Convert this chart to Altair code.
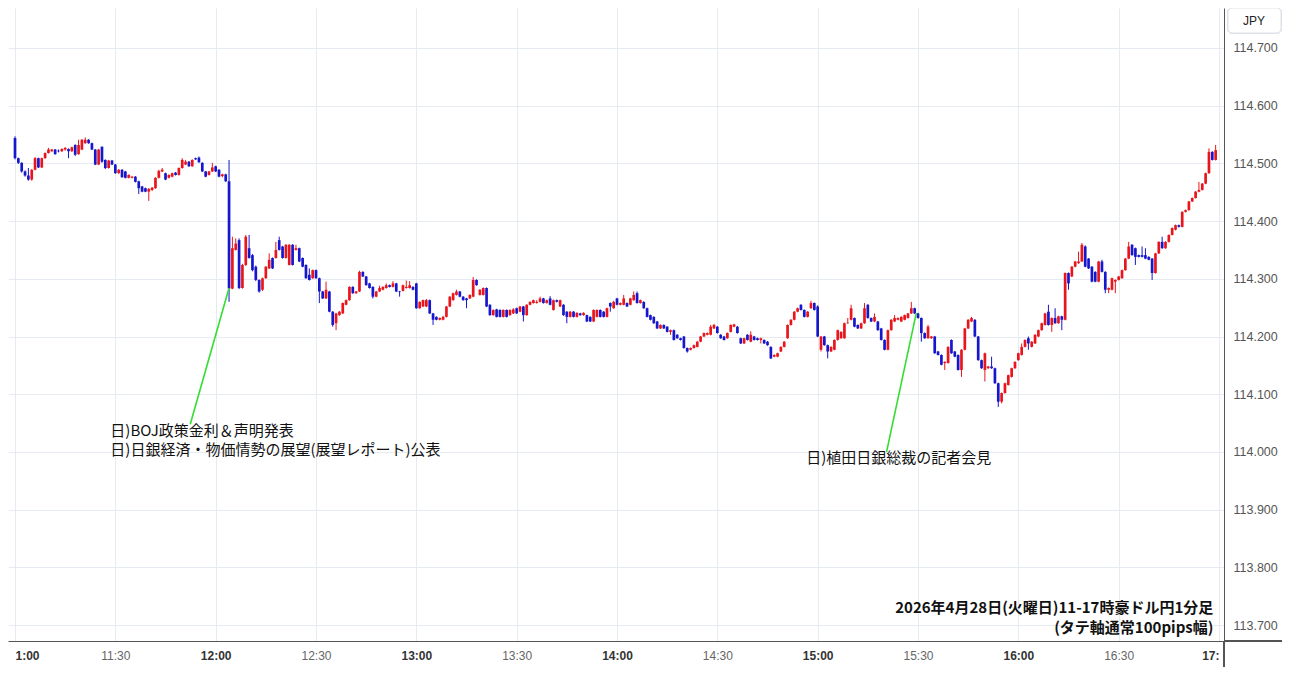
import altair as alt
import pandas as pd

# 1-minute candles, 11:00-16:59; values are thousandths above 114.000
OPEN = [
    544,509,501,486,479,472,489,509,493,509, 518,521,524,522,521,524,525,521,532,516,
    524,535,541,535,524,498,529,506,492,505, 498,483,489,486,475,475,477,469,460,457,
    451,454,457,475,486,483,475,477,484,480, 492,498,503,495,509,510,501,486,480,486,
    495,489,478,481,469,283,350,367,284,324, 353,341,321,298,281,301,318,336,336,367,
    356,336,324,359,350,353,336,324,307,301, 315,301,278,266,278,243,223,237,240,255,
    263,286,275,278,312,304,292,286,269,278, 281,284,289,286,292,278,279,284,284,286,
    292,249,252,252,263,240,234,229,229,234, 252,263,272,278,269,266,266,269,298,272,
    272,284,255,237,247,246,234,246,237,240, 249,243,252,237,255,258,258,260,266,258,
    266,246,263,252,255,243,234,243,234,240, 237,237,234,226,234,246,243,234,258,249,
    266,255,255,258,255,263,275,258,260,249, 237,234,226,214,220,217,208,211,203,197,
    200,180,177,180,182,191,200,203,203,214, 217,203,200,197,208,217,217,197,188,203,
    191,200,197,194,194,191,182,165,165,174, 182,197,220,229,243,255,246,234,249,258,
    252,177,200,185,174,177,194,197,197,223, 229,232,220,214,223,255,232,226,226,214,
    194,177,211,226,229,226,229,232,240,249, 240,232,206,197,197,200,174,168,154,154,
    194,174,168,142,177,214,226,229,200,159, 142,145,148,145,119,87,102,116,130,145,
    159,168,182,197,182,188,200,211,220,243, 220,232,223,235,229,310,304,321,327,330,
    356,335,321,312,295,330,312,281,281,295, 298,301,315,335,359,353,341,341,341,338,
    335,310,344,364,353,364,376,385,393,390, 416,419,434,440,451,454,465,483,520,506,
]
HIGH = [
    547,510,502,488,492,490,511,510,510,519, 527,525,525,524,526,528,526,529,533,541,
    542,545,542,536,525,525,529,507,506,506, 499,490,490,487,481,478,478,470,461,458,
    457,459,476,489,492,484,481,484,485,493, 509,506,504,507,510,512,502,487,487,501,
    496,490,482,482,506,373,370,370,326,376, 376,343,323,299,302,322,344,337,364,373,
    357,360,360,360,359,354,337,325,318,316, 316,302,279,295,279,244,241,244,259,264,
    287,287,279,314,313,305,293,287,279,288, 287,292,290,296,293,279,290,297,296,287,
    293,261,264,265,264,241,235,233,236,253, 270,276,281,279,270,267,273,303,299,282,
    285,285,256,247,248,247,247,247,247,249, 250,253,253,256,261,264,263,269,267,264,
    270,264,264,264,256,244,244,244,242,241, 242,238,235,247,247,247,244,250,259,262,
    267,259,272,259,267,278,278,264,261,250, 238,235,227,221,221,218,212,212,204,198,
    201,181,181,186,192,201,207,207,220,222, 218,204,201,207,221,222,218,198,198,204,
    209,201,198,198,195,192,183,169,172,183, 192,221,230,244,250,256,247,244,262,259,
    254,201,201,186,183,195,212,209,224,232, 255,233,221,224,258,256,233,240,227,215,
    195,212,230,237,233,235,238,241,260,250, 241,233,207,220,201,201,175,169,157,183,
    195,175,169,178,215,230,234,230,201,160, 172,149,165,146,120,103,120,134,146,157,
    172,188,195,200,192,204,212,224,241,255, 233,249,236,236,311,311,322,331,347,362,
    358,336,322,313,331,333,313,285,302,299, 305,316,336,364,360,354,342,356,353,339,
    336,345,365,373,365,377,389,394,394,417, 420,435,441,452,468,466,484,526,521,532,
]
LOW = [
    507,499,484,477,470,470,488,492,492,508, 517,520,515,519,520,522,509,520,513,515,
    523,534,534,523,497,497,501,490,491,497, 482,482,475,474,474,474,467,447,450,450,
    435,452,456,474,485,471,474,476,479,479, 491,497,494,494,506,501,485,476,479,485,
    485,476,476,468,260,282,349,282,283,322, 335,313,296,276,279,300,317,317,335,349,
    335,335,323,323,349,329,320,300,297,300, 300,258,265,265,242,217,211,236,239,254,
    262,274,274,277,303,288,283,266,268,277, 280,283,285,285,277,269,278,283,283,280,
    248,248,251,251,239,220,228,228,228,233, 251,262,271,268,262,249,265,268,288,271,
    271,251,236,236,233,233,233,233,236,239, 239,242,226,236,254,257,257,259,257,257,
    254,245,259,251,236,223,233,233,233,236, 236,225,225,225,233,233,233,233,243,248,
    254,254,254,251,254,262,257,257,248,233, 228,222,213,213,213,207,203,193,196,193,
    179,172,176,179,181,190,199,202,202,213, 205,196,193,196,207,216,205,187,187,193,
    190,193,193,188,187,184,161,164,164,173, 181,196,219,228,242,245,233,233,248,245,
    199,174,184,162,173,176,193,196,196,222, 228,216,213,213,222,231,225,225,210,193,
    176,176,210,225,228,225,228,231,239,239, 231,191,196,196,196,170,167,150,142,153,
    170,164,141,130,176,213,225,199,158,144, 122,144,144,118,78,84,101,115,129,144,
    158,167,181,177,181,187,199,210,219,219, 208,222,222,211,228,281,303,320,326,329,
    320,317,294,294,294,311,275,275,280,275, 297,300,314,334,340,324,337,337,334,332,
    298,309,343,352,352,363,375,384,389,389, 415,418,433,439,450,453,464,482,505,505,
]
CLOSE = [
    509,501,486,479,472,489,509,493,509,518, 524,524,516,521,525,527,521,528,515,532,
    541,541,535,524,498,524,503,492,505,498, 483,489,476,475,480,477,468,457,451,451,
    456,458,475,487,489,472,480,483,480,492, 506,503,495,506,507,502,486,477,486,493,
    486,477,481,469,283,353,361,284,324,373, 336,315,298,278,301,321,333,318,350,350,
    336,359,359,324,353,330,321,301,298,315, 301,278,266,281,243,220,240,243,258,263,
    286,275,278,312,304,289,284,269,278,284, 286,289,286,292,278,277,289,286,289,281,
    249,260,263,263,240,229,229,232,234,252, 269,275,278,269,263,263,272,298,289,281,
    284,252,237,246,234,234,246,234,246,247, 240,252,237,255,260,263,260,266,258,263,
    255,263,260,263,237,234,243,234,241,237, 241,226,226,246,246,234,234,249,252,260,
    255,258,266,252,266,272,258,263,249,234, 229,223,214,220,214,208,211,194,197,194,
    180,174,180,185,191,200,206,206,217,220, 206,197,194,206,220,221,206,188,197,194,
    203,194,194,197,188,185,162,168,171,182, 191,220,229,243,249,246,234,243,258,246,
    200,200,185,174,182,194,211,208,223,224, 249,217,214,223,249,232,226,234,211,194,
    177,211,229,232,232,234,237,240,249,240, 232,206,197,217,200,171,168,151,156,182,
    171,165,142,177,214,229,232,200,159,145, 171,148,145,119,87,102,119,133,145,156,
    171,182,194,188,191,203,211,223,240,220, 232,223,235,229,310,292,321,330,330,359,
    321,318,295,295,330,312,281,284,301,298, 304,315,335,356,341,338,338,338,335,333,
    310,344,364,353,364,376,388,393,390,416, 419,434,440,451,454,465,483,520,506,523,
]

Y_TICKS = [113.7, 113.8, 113.9, 114.0, 114.1, 114.2, 114.3, 114.4, 114.5, 114.6, 114.7]
X_TICKS = [0, 30, 60, 90, 120, 150, 180, 210, 240, 270, 300, 330, 360]

NOTE_TEXT = ["日)BOJ政策金利＆声明発表", "日)日銀経済・物価情勢の展望(展望レポート)公表", "日)植田日銀総裁の記者会見"]
NOTE_M = [28.5, 28.5, 236.6]
NOTE_P = [114.0362, 114.0033, 113.989]
LINE_M = [52.4, 260.6]
LINE_P = [114.048, 114.000]
LINE_M2 = [64.0, 269.5]
LINE_P2 = [114.284, 114.241]
TITLE_TEXT = ["2026年4月28日(火曜日)11-17時豪ドル円1分足", "(タテ軸通常100pips幅)"]
TITLE_M = [358.3, 358.3]
TITLE_P = [113.7295, 113.6948]

RED = "#e8161c"
BLUE = "#1616cc"
GRID = "#e6ebf1"
AXIS = "#555555"

n = len(CLOSE)
rows = []
for i in range(n):
    o = 114 + OPEN[i] / 1000
    c = 114 + CLOSE[i] / 1000
    h = max(114 + HIGH[i] / 1000, o, c)
    l = min(114 + LOW[i] / 1000, o, c)
    rows.append({"m": i, "open": o, "high": h, "low": l, "close": c,
                 "dir": "up" if c >= o else "down"})
df = pd.DataFrame(rows)

xscale = alt.Scale(domain=[-0.6, 360], nice=False, zero=False)
yscale = alt.Scale(domain=[113.6723, 114.7693], nice=False, zero=False)
cscale = alt.Scale(domain=["up", "down"], range=[RED, BLUE])

label_expr = ("datum.value == 0 ? '1:00' : datum.value == 360 ? '17:' : "
              "(floor(datum.value / 60) + 11) + ':' + (datum.value % 60 == 0 ? '00' : '30')")

x_axis = alt.Axis(
    values=X_TICKS, labelExpr=label_expr, title=None, grid=True, gridColor=GRID,
    ticks=False, domainColor=AXIS, labelFont="Liberation Sans", labelFontSize=12,
    labelFontWeight={"condition": {"test": "datum.value % 60 == 0", "value": "bold"}, "value": "normal"},
    labelColor={"condition": {"test": "datum.value % 60 == 0", "value": "#333333"}, "value": "#666666"},
    labelAlign={"condition": [{"test": "datum.value == 0", "value": "left"},
                              {"test": "datum.value == 360", "value": "right"}],
                "value": "center"},
    labelPadding=9,
)
y_axis = alt.Axis(
    orient="right", values=Y_TICKS, format=".3f", title=None, grid=True, gridColor=GRID,
    ticks=False, domainColor=AXIS, labelFont="Liberation Sans", labelFontSize=12.5,
    labelColor="#555555", labelPadding=9,
)

base = alt.Chart(df)
wicks = base.mark_rule(strokeWidth=1).encode(
    x=alt.X("m:Q", scale=xscale, axis=x_axis),
    y=alt.Y("low:Q", scale=yscale, axis=y_axis),
    y2="high:Q",
    color=alt.Color("dir:N", scale=cscale, legend=None),
)
bodies = base.mark_bar(size=2.7).encode(
    x=alt.X("m:Q", scale=xscale),
    y=alt.Y("open:Q", scale=yscale),
    y2="close:Q",
    color=alt.Color("dir:N", scale=cscale, legend=None),
)

lines_df = pd.DataFrame({"m": LINE_M, "p": LINE_P, "m2": LINE_M2, "p2": LINE_P2})
pointer = alt.Chart(lines_df).mark_rule(color="#33dd33", strokeWidth=1.6).encode(
    x=alt.X("m:Q", scale=xscale), y=alt.Y("p:Q", scale=yscale), x2="m2:Q", y2="p2:Q"
)

notes_df = pd.DataFrame({"m": NOTE_M, "p": NOTE_P, "t": NOTE_TEXT})
notes = alt.Chart(notes_df).mark_text(
    align="left", baseline="middle", font="Noto Sans CJK JP", fontSize=15, color="#111111"
).encode(x=alt.X("m:Q", scale=xscale), y=alt.Y("p:Q", scale=yscale), text="t:N")

title_df = pd.DataFrame({"m": TITLE_M, "p": TITLE_P, "t": TITLE_TEXT})
title = alt.Chart(title_df).mark_text(
    align="right", baseline="middle", font="Noto Sans CJK JP", fontSize=15,
    fontWeight="bold", color="#111111"
).encode(x=alt.X("m:Q", scale=xscale), y=alt.Y("p:Q", scale=yscale), text="t:N")

axis_ext_h = alt.Chart(df).mark_rule(color=AXIS, strokeWidth=1, clip=False).encode(
    x=alt.value(1216), x2=alt.value(1274), y=alt.value(633)
)
axis_ext_v = alt.Chart(df).mark_rule(color=AXIS, strokeWidth=1, clip=False).encode(
    x=alt.value(1216), y=alt.value(633), y2=alt.value(659)
)
jpy_box = alt.Chart(df).mark_rect(
    fill="white", stroke="#dde1e8", strokeWidth=1, cornerRadius=4, clip=False
).encode(x=alt.value(1220), x2=alt.value(1273), y=alt.value(0), y2=alt.value(25))
jpy_text = alt.Chart(pd.DataFrame({"t": ["JPY"]})).mark_text(
    font="Liberation Sans", fontSize=12, color="#222222", align="center", baseline="middle", clip=False
).encode(x=alt.value(1246), y=alt.value(12.5), text="t:N")

chart = alt.layer(
    wicks, bodies, pointer, notes, title, axis_ext_h, axis_ext_v, jpy_box, jpy_text
).properties(
    width=1216, height=633, background="white",
    autosize=alt.AutoSizeParams(type="none"),
    padding={"left": 0, "top": 0, "right": 58, "bottom": 26},
).configure_view(stroke=None)

chart.save("out.html", embed_options={"renderer": "svg", "actions": False})
